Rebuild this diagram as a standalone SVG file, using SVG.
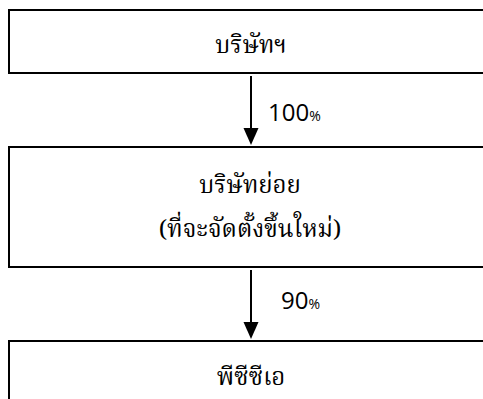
<svg xmlns="http://www.w3.org/2000/svg" width="483" height="399" viewBox="0 0 483 399">
<defs>
<style>
.box{fill:#fff;stroke:#000;stroke-width:2}
.th{font-family:"Noto Serif Thai","Noto Sans Thai","DejaVu Sans",sans-serif;font-size:24px;fill:#000;text-anchor:middle}
.pct{font-family:"Open Sans","Liberation Sans",sans-serif;font-size:24px;fill:#000}
.pct tspan{font-size:14px}
.conn{stroke:#000;stroke-width:2;fill:none}
</style>
<marker id="ah" markerUnits="userSpaceOnUse" markerWidth="16" markerHeight="18" refX="8" refY="17" orient="auto-start-reverse" viewBox="0 0 16 18">
<polygon points="0,0 16,0 8,18" fill="#000"/>
</marker>
</defs>
<g id="connectors">
<line class="conn" x1="251" y1="76" x2="251" y2="130"/>
<polygon points="243.5,128 258.5,128 251,145" fill="#000"/>
<line class="conn" x1="251" y1="270" x2="251" y2="324"/>
<polygon points="243.5,322 258.5,322 251,339" fill="#000"/>
<text class="pct" x="268" y="121">100<tspan>%</tspan></text>
<text class="pct" x="281" y="309">90<tspan>%</tspan></text>
</g>
<g id="node-company">
<rect class="box" x="9" y="10" width="480" height="63"/>
<text class="th" x="251" y="53">บริษัทฯ</text>
</g>
<g id="node-subsidiary">
<rect class="box" x="9" y="147" width="480" height="120"/>
<text class="th" x="250" y="193">บริษัทย่อย</text>
<text class="th" x="250" y="237">(ที่จะจัดตั้งขึ้นใหม่)</text>
</g>
<g id="node-pcca">
<rect class="box" x="9" y="341" width="480" height="70"/>
<text class="th" x="251" y="385">พีซีซีเอ</text>
</g>
</svg>
